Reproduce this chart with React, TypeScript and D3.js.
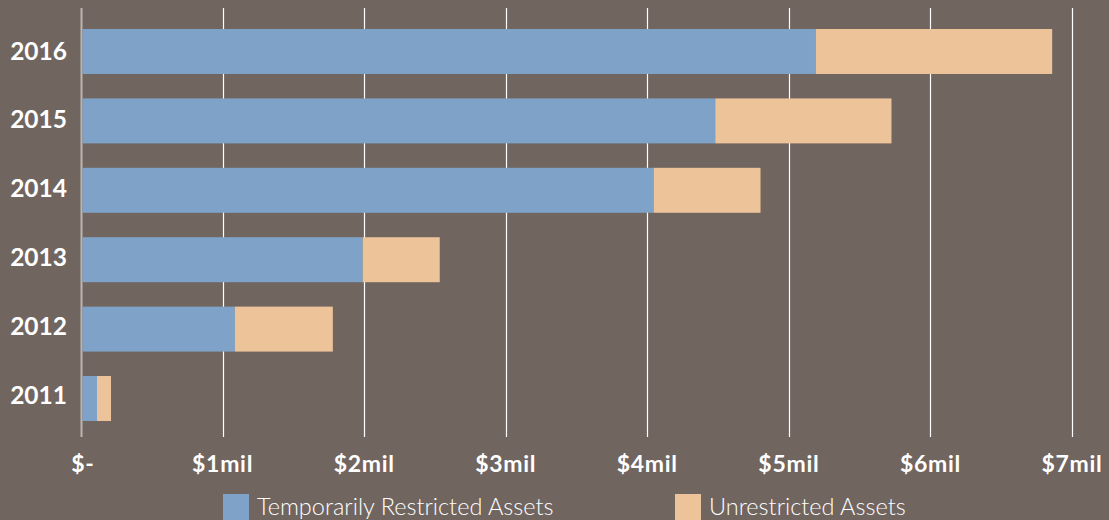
import React, { useEffect } from "react";
import * as d3 from "d3";

const years = ["2016", "2015", "2014", "2013", "2012", "2011"];
const restricted = [5.19, 4.48, 4.045, 1.99, 1.087, 0.113];
const unrestricted = [1.67, 1.245, 0.755, 0.544, 0.692, 0.099];
const tickValues = [0, 1, 2, 3, 4, 5, 6, 7];
const tickLabels = ["$-", "$1mil", "$2mil", "$3mil", "$4mil", "$5mil", "$6mil", "$7mil"];
const seriesNames = ["Temporarily Restricted Assets", "Unrestricted Assets"];
const colors = ["#7fa3c8", "#edc399"];

const W = 1109;
const H = 520;
const BG = "#716560";
const FONT = "Lato, 'Open Sans', sans-serif";

export default function App() {
  useEffect(() => {
    document.body.style.margin = "0";
  }, []);

  const x = d3.scaleLinear().domain([0, 7]).range([81, 1072]);
  const y = d3
    .scaleBand<string>()
    .domain(years)
    .range([16.8, 433.2])
    .paddingInner(0.352)
    .paddingOuter(0.176);
  const yLabel = d3.scaleBand<string>().domain(years).range([16.6, 429.4]);
  const bw = y.bandwidth();
  const x0 = x(0) + 1.5;

  return (
    <svg width={W} height={H} style={{ display: "block", background: BG }}>
      <rect x={0} y={0} width={W} height={H} fill={BG} />
      {tickValues.map((t, i) => (
        <line
          key={"g" + i}
          x1={Math.round(x(t)) + 0.5}
          x2={Math.round(x(t)) + 0.5}
          y1={8}
          y2={437}
          stroke={t === 0 ? "#bdb5b1" : "#ffffff"}
          strokeWidth={t === 0 ? 2 : 1.2}
        />
      ))}
      {years.map((yr, i) => {
        const yy = y(yr)!;
        const r = restricted[i];
        const u = unrestricted[i];
        return (
          <g key={yr}>
            <rect x={x0} y={yy} width={x(r) - x0} height={bw} fill={colors[0]} />
            <rect x={x(r)} y={yy} width={x(r + u) - x(r)} height={bw} fill={colors[1]} />
            <text
              x={67}
              y={yLabel(yr)! + yLabel.bandwidth() / 2 + 8.6}
              textAnchor="end"
              fill="#ffffff"
              fontFamily={FONT}
              fontWeight={700}
              fontSize={24.5}
            >
              {yr}
            </text>
          </g>
        );
      })}
      {tickValues.map((t, i) => (
        <text
          key={"t" + i}
          x={x(t) + (t === 0 ? 2 : 0)}
          y={472}
          textAnchor="middle"
          fill="#ffffff"
          fontFamily={FONT}
          fontWeight={700}
          fontSize={23}
          letterSpacing={0.7}
        >
          {tickLabels[i]}
        </text>
      ))}
      {seriesNames.map((name, i) => {
        const lx = i === 0 ? 223 : 675;
        return (
          <g key={name}>
            <rect x={lx} y={494} width={26} height={26} fill={colors[i]} />
            <text
              x={lx + 34}
              y={514.5}
              fill="#ffffff"
              fontFamily={FONT}
              fontWeight={300}
              fontSize={23.5}
            >
              {name}
            </text>
          </g>
        );
      })}
    </svg>
  );
}
